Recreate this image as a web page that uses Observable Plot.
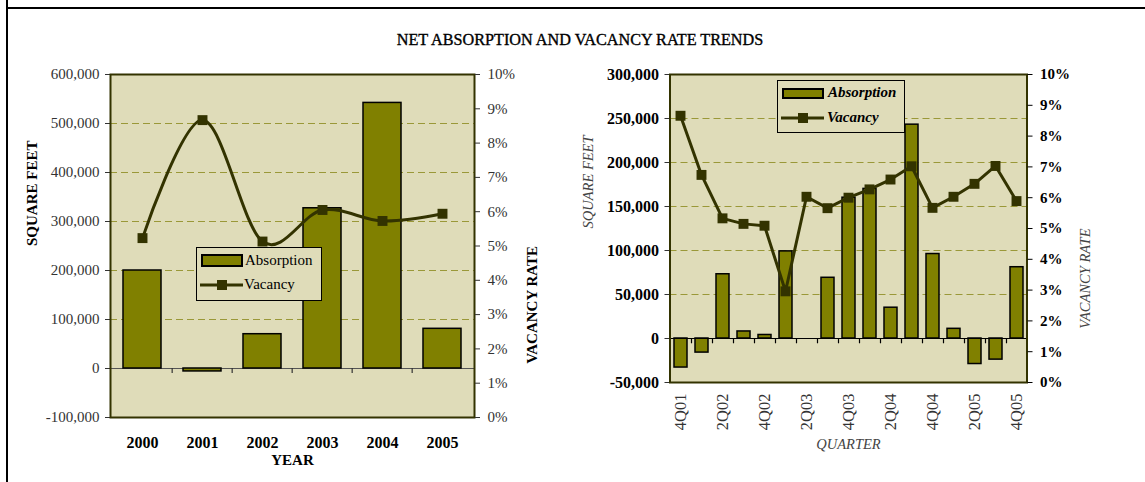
<!DOCTYPE html>
<html>
<head>
<meta charset="utf-8">
<script src="https://cdn.jsdelivr.net/npm/d3@7"></script>
<script src="https://cdn.jsdelivr.net/npm/@observablehq/plot@0.6"></script>
<style>
html,body{margin:0;padding:0;background:#fff;}
#wrap{position:relative;width:1145px;height:482px;overflow:hidden;font-family:"Liberation Serif",serif;}
.frameV{position:absolute;left:6px;top:0;width:2px;height:482px;background:#000;}
.frameH{position:absolute;left:6px;top:7px;width:1139px;height:2px;background:#000;}
#title{position:absolute;left:0;width:1160px;top:31px;text-align:center;font-size:16.2px;color:#000;-webkit-text-stroke:0.35px #000;}
.layer{position:absolute;top:0;}
.layer svg{overflow:visible;display:block;}
.cLA g[aria-label^="x-axis"] text{font-weight:bold;fill:#000;font-size:16px;}
.cRA g[aria-label^="x-axis"] text{font-size:16.5px;fill:#333;}
.cRA g[aria-label^="y-axis"] text{font-weight:bold;fill:#000;font-size:16px;}
.cRB g[aria-label^="y-axis"] text{font-weight:bold;fill:#000;}
.legend{position:absolute;background:#DFDCB9;border:1px solid #000;font-family:"Liberation Serif",serif;font-size:15px;color:#000;}
.legend .row{position:absolute;left:0;display:flex;align-items:center;}
.legend svg{display:block;}
</style>
</head>
<body>
<div id="wrap">
  <div class="frameV"></div>
  <div class="frameH"></div>
  <div id="title">NET ABSORPTION AND VACANCY RATE TRENDS</div>
  <div id="leftA" class="layer" style="left:0px"></div>
  <div id="leftB" class="layer" style="left:0px"></div>
  <div id="rightA" class="layer" style="left:570px"></div>
  <div id="rightB" class="layer" style="left:570px"></div>
  <div class="legend" id="legL" style="left:196px;top:247px;width:124px;height:52px;">
    <div class="row" style="top:4px;left:4px;">
      <svg width="44" height="16"><rect x="1" y="2" width="40" height="11" fill="#808000" stroke="#000" stroke-width="2"/></svg>
      <span>Absorption</span>
    </div>
    <div class="row" style="top:28px;left:3px;">
      <svg width="44" height="16"><line x1="0" y1="8" x2="43" y2="8" stroke="#333300" stroke-width="3"/><rect x="17" y="3" width="10" height="10" fill="#333300"/></svg>
      <span>Vacancy</span>
    </div>
  </div>
  <div class="legend" id="legR" style="left:777px;top:80px;width:126px;height:51px;font-weight:bold;font-style:italic;">
    <div class="row" style="top:3px;left:4px;">
      <svg width="46" height="16"><rect x="1" y="4" width="40" height="9" fill="#808000" stroke="#000" stroke-width="2"/></svg>
      <span>Absorption</span>
    </div>
    <div class="row" style="top:28px;left:3px;">
      <svg width="46" height="16"><line x1="0" y1="8" x2="43" y2="8" stroke="#333300" stroke-width="3"/><rect x="17" y="3" width="10" height="10" fill="#333300"/></svg>
      <span>Vacancy</span>
    </div>
  </div>
</div>
<script>
// ---------- Data ----------
const years = ["2000", "2001", "2002", "2003", "2004", "2005"];
const absorptionYear = [200000, -6000, 70000, 327000, 542000, 81000];
const vacancyYear = [5.23, 8.67, 5.13, 6.05, 5.73, 5.94];

const quarters = ["4Q01","1Q02","2Q02","3Q02","4Q02","1Q03","2Q03","3Q03","4Q03","1Q04","2Q04","3Q04","4Q04","1Q05","2Q05","3Q05","4Q05"];
const absorptionQtr = [-33000, -16000, 73000, 8000, 4000, 99000, 0, 69000, 160000, 170000, 35000, 243000, 96000, 11000, -29000, -24000, 81000];
const vacancyQtr = [8.66, 6.74, 5.33, 5.15, 5.09, 2.96, 6.03, 5.66, 6.0, 6.27, 6.59, 7.02, 5.67, 6.03, 6.45, 7.03, 5.89];
const quarterTickLabels = ["4Q01","2Q02","4Q02","2Q03","4Q03","2Q04","4Q04","2Q05","4Q05"];

const sqftTicksYear = [-100000, 0, 100000, 200000, 300000, 400000, 500000, 600000];
const sqftGridYear = [100000, 200000, 300000, 400000, 500000];
const sqftTicksQtr = [-50000, 0, 50000, 100000, 150000, 200000, 250000, 300000];
const sqftGridQtr = [50000, 100000, 150000, 200000, 250000];
const pctTicks = [0, 1, 2, 3, 4, 5, 6, 7, 8, 9, 10];

// ---------- Helpers ----------
const BG = "#DFDCB9", BAR = "#808000", LINE = "#333300", GRID = "#9A9838";
const fmtSq = d => (d < 0 ? "-" : "") + d3.format(",")(Math.abs(d));
const fmtPct = d => d + "%";
const yearRows = years.map((y, i) => ({year: y, abs: absorptionYear[i], vac: vacancyYear[i]}));
const qtrRows = quarters.map((q, i) => ({q, abs: absorptionQtr[i], vac: vacancyQtr[i]}));

// ---------- Left chart ----------
const L = {width: 570, height: 482, marginLeft: 110, marginRight: 96, marginTop: 74, marginBottom: 65};
const stepL = (L.width - L.marginLeft - L.marginRight) / years.length;

const leftA = Plot.plot({
  ...L,
  className: "cLA",
  style: {background: "transparent", fontFamily: "Liberation Serif", fontSize: "15px", color: "#333"},
  x: {type: "band", domain: years, paddingInner: 0.375, paddingOuter: 0.1875, tickSize: 0, tickPadding: 19, label: null},
  y: {domain: [-100000, 600000], ticks: sqftTicksYear, tickFormat: fmtSq, tickSize: 5, tickPadding: 6, label: null},
  marks: [
    Plot.frame({fill: BG, stroke: null}),
    Plot.ruleY(sqftGridYear, {stroke: GRID, strokeWidth: 1.2, strokeDasharray: "7,4"}),
    Plot.ruleY([0], {stroke: "#555", strokeWidth: 1.2}),
    Plot.barY(yearRows, {x: "year", y: "abs", fill: BAR, stroke: "#000", strokeWidth: 1.5}),
    Plot.ruleX(years.slice(1), {x: d => d, y1: 0, y2: -10000, dx: -stepL / 2, stroke: "#333", strokeWidth: 1.2}),
    Plot.frame({stroke: LINE, strokeWidth: 2}),
    Plot.text(["SQUARE FEET"], {text: d => d, frameAnchor: "left", dx: -78, rotate: -90, fontWeight: "bold", fontSize: 15, fill: "#000"}),
    Plot.text(["YEAR"], {text: d => d, frameAnchor: "bottom", dy: 47, fontWeight: "bold", fontSize: 15, fill: "#000"})
  ]
});
document.getElementById("leftA").appendChild(leftA);

const leftB = Plot.plot({
  ...L,
  className: "cLB",
  style: {background: "transparent", fontFamily: "Liberation Serif", fontSize: "15px", color: "#333"},
  x: {type: "point", domain: years, padding: 0.5, axis: null},
  y: {domain: [0, 10], axis: "right", ticks: pctTicks, tickFormat: fmtPct, tickSize: 5, tickPadding: 8, label: null},
  marks: [
    Plot.line(yearRows, {x: "year", y: "vac", curve: "cardinal", stroke: LINE, strokeWidth: 3}),
    Plot.dot(yearRows, {x: "year", y: "vac", symbol: "square", r: 5.6, fill: LINE, stroke: null}),
    Plot.text(["VACANCY RATE"], {text: d => d, frameAnchor: "right", dx: 58, rotate: -90, fontWeight: "bold", fontSize: 15, fill: "#000"})
  ]
});
document.getElementById("leftB").appendChild(leftB);

// ---------- Right chart ----------
const R = {width: 575, height: 482, marginLeft: 99.5, marginRight: 118.5, marginTop: 74, marginBottom: 100};
const stepR = (R.width - R.marginLeft - R.marginRight) / quarters.length;

const rightA = Plot.plot({
  ...R,
  className: "cRA",
  style: {background: "transparent", fontFamily: "Liberation Serif", fontSize: "15px", color: "#333"},
  x: {type: "band", domain: quarters, paddingInner: 0.4, paddingOuter: 0.2, ticks: quarterTickLabels, tickRotate: -90, tickSize: 0, tickPadding: 11, label: null},
  y: {domain: [-50000, 300000], ticks: sqftTicksQtr, tickFormat: fmtSq, tickSize: 5, tickPadding: 6, label: null},
  marks: [
    Plot.frame({fill: BG, stroke: null}),
    Plot.ruleY(sqftGridQtr, {stroke: GRID, strokeWidth: 1.2, strokeDasharray: "7,4"}),
    Plot.barY(qtrRows, {x: "q", y: "abs", fill: BAR, stroke: "#000", strokeWidth: 1.5}),
    Plot.ruleY([0], {stroke: "#000", strokeWidth: 1.2}),
    Plot.ruleX(quarters.slice(1), {x: d => d, y1: 0, y2: -6000, dx: -stepR / 2, stroke: "#000", strokeWidth: 1.2}),
    Plot.frame({stroke: LINE, strokeWidth: 2}),
    Plot.text(["SQUARE FEET"], {text: d => d, frameAnchor: "left", dx: -82, rotate: -90, fontStyle: "italic", fontSize: 14.5, fill: "#444"}),
    Plot.text(["QUARTER"], {text: d => d, frameAnchor: "bottom", dy: 66, fontStyle: "italic", fontSize: 14.5, fill: "#444"})
  ]
});
document.getElementById("rightA").appendChild(rightA);

const rightB = Plot.plot({
  ...R,
  className: "cRB",
  style: {background: "transparent", fontFamily: "Liberation Serif", fontSize: "15px", color: "#000"},
  x: {type: "point", domain: quarters, padding: 0.5, axis: null},
  y: {domain: [0, 10], axis: "right", ticks: pctTicks, tickFormat: fmtPct, tickSize: 5, tickPadding: 8, label: null},
  marks: [
    Plot.line(qtrRows, {x: "q", y: "vac", stroke: LINE, strokeWidth: 3}),
    Plot.dot(qtrRows, {x: "q", y: "vac", symbol: "square", r: 5.6, fill: LINE, stroke: null}),
    Plot.text(["VACANCY RATE"], {text: d => d, frameAnchor: "right", dx: 58.5, rotate: -90, fontStyle: "italic", fontSize: 14.5, fill: "#444"})
  ]
});
document.getElementById("rightB").appendChild(rightB);
</script>
</body>
</html>
